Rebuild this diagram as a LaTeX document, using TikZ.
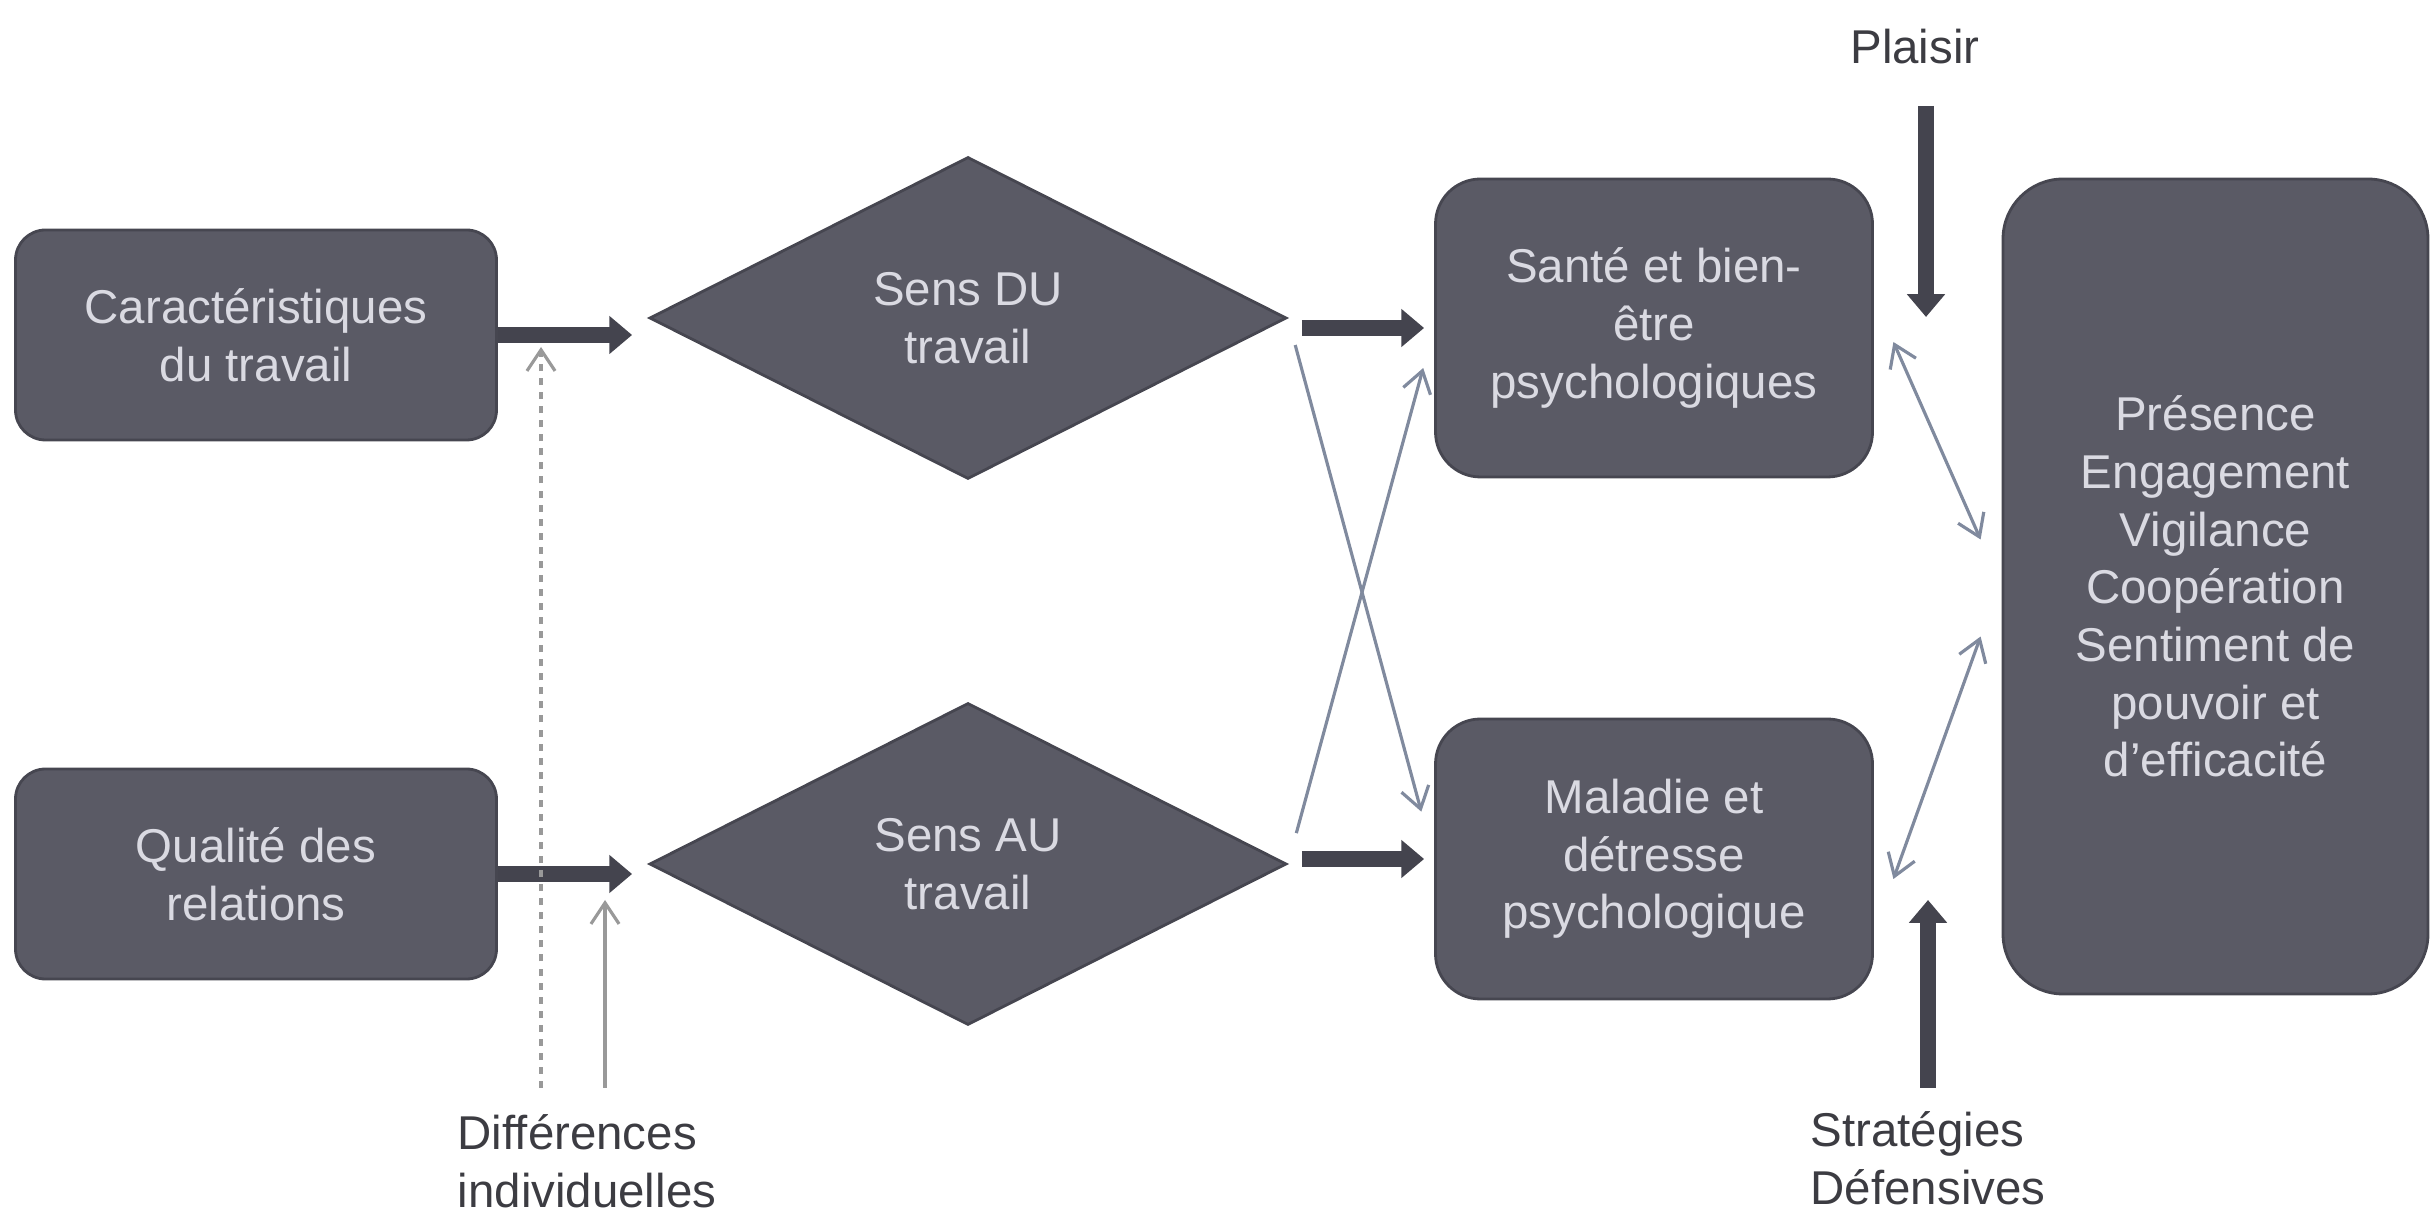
\documentclass[tikz,border=0pt]{standalone}
\usepackage{fontspec}
\setmainfont{Liberation Sans}
\usepackage{tikz}
\usetikzlibrary{shapes.geometric, arrows.meta, positioning}
\definecolor{boitegris}{RGB}{90,90,101}
\definecolor{boitebord}{RGB}{70,70,80}
\definecolor{textegris}{RGB}{218,218,226}
\definecolor{flechegris}{RGB}{68,68,78}
\definecolor{liengris}{RGB}{128,138,158}
\definecolor{etiquette}{RGB}{60,60,66}

\begin{document}
\begin{tikzpicture}[
    every node/.style={font=\fontsize{13.5}{16.4}\selectfont},
    boite/.style={draw=boitebord, fill=boitegris, text=textegris, line width=0.8pt,
                  rounded corners=0.3cm, minimum width=4.81cm, minimum height=2.1cm,
                  align=center, inner sep=2pt},
    losange/.style={diamond, draw=boitebord, fill=boitegris, text=textegris, line width=0.8pt,
                    minimum width=6.37cm, minimum height=3.22cm, align=center, inner sep=0pt},
    etiq/.style={text=etiquette, align=left, inner sep=0pt},
    fleche/.style={-{Triangle[length=6.5pt, width=10.5pt]}, line width=4.6pt, draw=flechegris},
    lien/.style={-{Straight Barb[length=6pt, width=8pt]}, line width=0.9pt, draw=liengris},
    lienaller/.style={{Straight Barb[length=6pt, width=8pt]}-{Straight Barb[length=6pt, width=8pt]},
                      line width=0.9pt, draw=liengris},
]
\useasboundingbox (0,0) rectangle (24.36,-12.22);

%% Boites et losanges, coordonnees absolues
\node[boite] at (2.56,-3.35) (carac) {Caractéristiques\\du travail};
\node[boite] at (2.56,-8.74) (qualite) {Qualité des\\relations};

\node[losange] at (9.68,-3.18) (sensdu) {Sens DU\\travail};
\node[losange] at (9.68,-8.64) (sensau) {Sens AU\\travail};

\node[boite, minimum width=4.37cm, minimum height=2.98cm, rounded corners=0.45cm]
      at (16.54,-3.28) (sante) {Santé et bien-\\être\\psychologiques};
\node[boite, minimum width=4.37cm, minimum height=2.8cm, rounded corners=0.45cm]
      at (16.54,-8.59) (maladie) {Maladie et\\détresse\\psychologique};

\node[boite, minimum width=4.25cm, minimum height=8.15cm, rounded corners=0.6cm]
      at (22.155,-5.865) (effets) {Présence\\Engagement\\Vigilance\\Coopération\\Sentiment de\\pouvoir et\\d’efficacité};

%% Etiquettes
\node[etiq] at (19.15,-0.47) (plaisir) {Plaisir};
\node[etiq, anchor=west] at (4.57,-11.61) (diff) {Différences\\individuelles};
\node[etiq, anchor=west] at (18.10,-11.58) (strat) {Stratégies\\Défensives};

\coordinate (plaisirhaut) at (19.26,-1.06);
\coordinate (plaisirbas)  at (19.26,-3.17);
\coordinate (strathaut)   at (19.28,-9.00);
\coordinate (stratbas)    at (19.28,-10.88);
\coordinate (diffa)       at (5.41,-10.88);
\coordinate (diffb)       at (6.05,-10.88);

%% Fleches epaisses
\draw[fleche, shorten >=0.16cm] (carac.east) -- (carac.east -| sensdu.west);
\draw[fleche, shorten >=0.16cm] (qualite.east) -- (qualite.east -| sensau.west);
\draw[fleche, shorten <=0.14cm, shorten >=0.1cm] (sensdu.east |- sante.west) -- (sante.west);
\draw[fleche, shorten <=0.14cm, shorten >=0.1cm] (sensau.east |- maladie.west) -- (maladie.west);
\draw[fleche] (plaisirhaut) -- (plaisirbas);
\draw[fleche] (stratbas) -- (strathaut);

%% Liens fins
\draw[lien, shorten <=0.28cm, shorten >=0.49cm] (sensdu.east) -- (maladie.west);
\draw[lien, shorten <=0.32cm, shorten >=0.415cm] (sensau.east) -- (sante.west);
\draw[lienaller] ([shift={(0.195,-0.14)}]sante.east) -- ([shift={(-0.21,0.47)}]effets.west);
\draw[lienaller] ([shift={(0.195,-0.20)}]maladie.east) -- ([shift={(-0.21,-0.50)}]effets.west);

\draw[lien, draw=gray!80, dash pattern=on 2pt off 2pt, shorten >=0.12cm] (diffa) -- (diffa |- carac.east);
\draw[lien, draw=gray!80, shorten >=0.26cm] (diffb) -- (diffb |- qualite.east);

\end{tikzpicture}
\end{document}
